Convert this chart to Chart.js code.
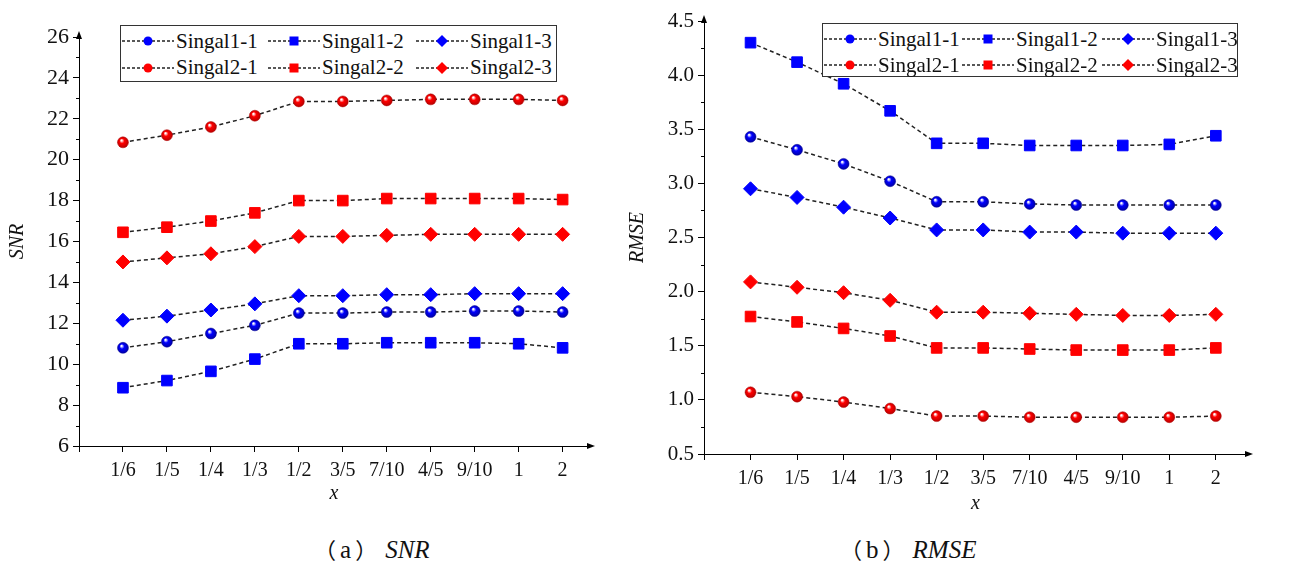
<!DOCTYPE html>
<html>
<head>
<meta charset="utf-8">
<script src="https://cdn.jsdelivr.net/npm/chart.js"></script>
<style>
  body { margin: 0; width: 1295px; height: 565px; background: #fff; position: relative; overflow: hidden; font-family: "Liberation Serif", serif; }
  canvas { position: absolute; }
  .legend { position: absolute; border: 1px solid #333; background: #fff; display: grid; align-items: center; box-sizing: border-box; padding: 2px 0 0 1px; }
  .item { display: flex; align-items: center; font-size: 21px; color: #111; white-space: nowrap; height: 26px; }
  .item svg { margin-right: 2px; flex: none; }
  .cap { position: absolute; font-size: 25px; color: #111; white-space: nowrap; }
  .cap b { font-weight: normal; font-family: "Noto Sans CJK SC", sans-serif; font-size: 22px; }
  .cap span { margin: 0 4px; }
  .cap i { font-style: italic; margin-left: 8px; }
</style>
</head>
<body>
<canvas id="snrChart" style="left:0;top:0;width:620px;height:510px" width="620" height="510"></canvas>
<canvas id="rmseChart" style="left:620px;top:0;width:675px;height:520px" width="675" height="520"></canvas>
<div id="snrLegend" class="legend" style="left:120px;top:25px;width:437px;height:57px;grid-template-columns:146px 148px 141px"></div>
<div id="rmseLegend" class="legend" style="left:822px;top:23px;width:416px;height:54px;grid-template-columns:138px 140px 136px"></div>
<div class="cap" style="left:314px;top:532px"><b>（</b><span>a</span><b>）</b><i>SNR</i></div>
<div class="cap" style="left:840px;top:532px"><b>（</b><span>b</span><b>）</b><i>RMSE</i></div>
<script>
Chart.defaults.font.family = "Liberation Serif";
Chart.defaults.color = "#111";

// x categories
const xLabels = ["1/6", "1/5", "1/4", "1/3", "1/2", "3/5", "7/10", "4/5", "9/10", "1", "2"];
const seriesNames = ["Singal1-1", "Singal1-2", "Singal1-3", "Singal2-1", "Singal2-2", "Singal2-3"];
const seriesColors = ["#0000ff", "#0000ff", "#0000ff", "#ff0000", "#ff0000", "#ff0000"];
const seriesMarkers = ["circle", "rect", "rectRot", "circle", "rect", "rectRot"];

// (a) SNR
const snr1_1 = [10.8, 11.1, 11.5, 11.9, 12.5, 12.5, 12.55, 12.55, 12.6, 12.6, 12.55];
const snr1_2 = [8.85, 9.2, 9.65, 10.25, 11.0, 11.0, 11.05, 11.05, 11.05, 11.0, 10.8];
const snr1_3 = [12.15, 12.35, 12.65, 12.95, 13.35, 13.35, 13.4, 13.4, 13.45, 13.45, 13.45];
const snr2_1 = [20.85, 21.2, 21.6, 22.15, 22.85, 22.85, 22.9, 22.95, 22.95, 22.95, 22.9];
const snr2_2 = [16.45, 16.7, 17.0, 17.4, 18.0, 18.0, 18.1, 18.1, 18.1, 18.1, 18.05];
const snr2_3 = [15.0, 15.2, 15.4, 15.75, 16.25, 16.25, 16.3, 16.35, 16.35, 16.35, 16.35];

// (b) RMSE
const rmse1_1 = [3.43, 3.31, 3.18, 3.02, 2.83, 2.83, 2.81, 2.8, 2.8, 2.8, 2.8];
const rmse1_2 = [4.3, 4.12, 3.92, 3.67, 3.37, 3.37, 3.35, 3.35, 3.35, 3.36, 3.44];
const rmse1_3 = [2.95, 2.87, 2.78, 2.68, 2.57, 2.57, 2.55, 2.55, 2.54, 2.54, 2.54];
const rmse2_1 = [1.07, 1.03, 0.98, 0.92, 0.85, 0.85, 0.84, 0.84, 0.84, 0.84, 0.85];
const rmse2_2 = [1.77, 1.72, 1.66, 1.59, 1.48, 1.48, 1.47, 1.46, 1.46, 1.46, 1.48];
const rmse2_3 = [2.09, 2.04, 1.99, 1.92, 1.81, 1.81, 1.8, 1.79, 1.78, 1.78, 1.79];

const markerRadius = { circle: 5.5, rect: 7.5, rectRot: 7 };
const darkColors = { "#0000ff": "#00009a", "#ff0000": "#b00000" };

// shaded ball look for the circle markers
function ballFill(color) {
  return (c) => {
    const chart = c.chart;
    if (!c.raw || !chart.scales.x) return color;
    const px = chart.scales.x.getPixelForValue(c.raw.x);
    const py = chart.scales.y.getPixelForValue(c.raw.y);
    if (!isFinite(px) || !isFinite(py)) return color;
    const g = chart.ctx.createRadialGradient(px - 1.5, py - 2, 0.5, px, py, 6);
    g.addColorStop(0, "#ffffff");
    g.addColorStop(0.35, color);
    g.addColorStop(1, darkColors[color]);
    return g;
  };
}

function makeDatasets(seriesList) {
  return seriesList.map((vals, i) => ({
    label: seriesNames[i],
    data: vals.map((v, j) => ({ x: j + 1, y: v })),
    borderColor: "#222",
    borderWidth: 1.5,
    borderDash: [4, 3],
    pointStyle: seriesMarkers[i],
    pointRadius: markerRadius[seriesMarkers[i]],
    pointBackgroundColor: seriesMarkers[i] === "circle" ? ballFill(seriesColors[i]) : seriesColors[i],
    pointBorderColor: seriesMarkers[i] === "circle" ? darkColors[seriesColors[i]] : seriesColors[i],
    pointBorderWidth: seriesMarkers[i] === "circle" ? 0.5 : 1,
  }));
}

// minor ticks on y and arrow heads on both axes
const axisArrows = {
  id: "axisArrows",
  afterDraw(chart, args, opts) {
    const ctx = chart.ctx;
    const a = chart.chartArea;
    const y = chart.scales.y;
    ctx.save();
    ctx.strokeStyle = "#000";
    ctx.fillStyle = "#000";
    ctx.lineWidth = 1;
    for (let k = 0; ; k++) {
      const v = y.min + opts.minor * (2 * k + 1);
      if (v >= y.max) break;
      const py = Math.round(y.getPixelForValue(v)) + 0.5;
      ctx.beginPath();
      ctx.moveTo(a.left - 3, py);
      ctx.lineTo(a.left, py);
      ctx.stroke();
    }
    ctx.beginPath();
    ctx.moveTo(a.left, a.top - 6);
    ctx.lineTo(a.left - 3, a.top + 2);
    ctx.lineTo(a.left + 3, a.top + 2);
    ctx.closePath();
    ctx.fill();
    ctx.beginPath();
    ctx.moveTo(a.right + 6, a.bottom);
    ctx.lineTo(a.right - 2, a.bottom - 3);
    ctx.lineTo(a.right - 2, a.bottom + 3);
    ctx.closePath();
    ctx.fill();
    ctx.restore();
  },
};

function makeChart(id, seriesList, cfg) {
  return new Chart(document.getElementById(id).getContext("2d"), {
    type: "line",
    data: { datasets: makeDatasets(seriesList) },
    plugins: [axisArrows],
    options: {
      responsive: false,
      animation: false,
      layout: { padding: { top: cfg.padTop, right: cfg.padRight, left: 0, bottom: 0 } },
      plugins: {
        legend: { display: false },
        tooltip: { enabled: false },
        axisArrows: { minor: cfg.yStep / 2 },
      },
      scales: {
        x: {
          type: "linear",
          min: 0,
          max: cfg.xMax,
          afterFit: (s) => { s.height = cfg.xHeight; },
          border: { display: true, color: "#000", width: 1 },
          grid: { drawOnChartArea: false, drawTicks: true, tickLength: 6, color: "#000" },
          ticks: {
            stepSize: 1,
            includeBounds: false,
            autoSkip: false,
            maxRotation: 0,
            padding: 7,
            color: "#111",
            font: { size: 20 },
            callback: (v) => xLabels[v - 1] || "",
          },
          title: { display: true, text: "x", font: { size: 20, style: "italic" }, padding: { top: 0, bottom: 4 } },
        },
        y: {
          min: cfg.yMin,
          max: cfg.yMax,
          afterFit: (s) => { s.width = cfg.yWidth; },
          border: { display: true, color: "#000", width: 1 },
          grid: { drawOnChartArea: false, drawTicks: true, tickLength: 6, color: "#000" },
          ticks: {
            stepSize: cfg.yStep,
            padding: 4,
            color: "#111",
            font: { size: cfg.yFont },
            callback: (v) => v.toFixed(cfg.yDec),
          },
          title: { display: true, text: cfg.yTitle, font: { size: 20, style: "italic" }, padding: { top: 6, bottom: 0 } },
        },
      },
    },
  });
}

makeChart("snrChart", [snr1_1, snr1_2, snr1_3, snr2_1, snr2_2, snr2_3], {
  padTop: 37, padRight: 31, xMax: 11.6, xHeight: 64, yWidth: 79,
  yMin: 6, yMax: 26, yStep: 2, yDec: 0, yFont: 22, yTitle: "SNR",
});
makeChart("rmseChart", [rmse1_1, rmse1_2, rmse1_3, rmse2_1, rmse2_2, rmse2_3], {
  padTop: 21, padRight: 48, xMax: 11.67, xHeight: 66, yWidth: 84,
  yMin: 0.5, yMax: 4.5, yStep: 0.5, yDec: 1, yFont: 21, yTitle: "RMSE",
});

// HTML legends, two rows of three
function markerSvg(shape, color) {
  let m = "";
  if (shape === "circle") m = `<circle cx="26" cy="8" r="4.5" fill="${color}"/>`;
  else if (shape === "rect") m = `<rect x="21.5" y="3.5" width="9" height="9" fill="${color}"/>`;
  else m = `<polygon points="26,2 32,8 26,14 20,8" fill="${color}"/>`;
  return `<svg width="52" height="16"><line x1="0" y1="8" x2="52" y2="8" stroke="#222" stroke-width="1.3" stroke-dasharray="3,2"/>${m}</svg>`;
}
function buildLegend(id) {
  const box = document.getElementById(id);
  seriesNames.forEach((name, i) => {
    const div = document.createElement("div");
    div.className = "item";
    div.innerHTML = markerSvg(seriesMarkers[i], seriesColors[i]) + "<span>" + name + "</span>";
    box.appendChild(div);
  });
}
buildLegend("snrLegend");
buildLegend("rmseLegend");
</script>
</body>
</html>
